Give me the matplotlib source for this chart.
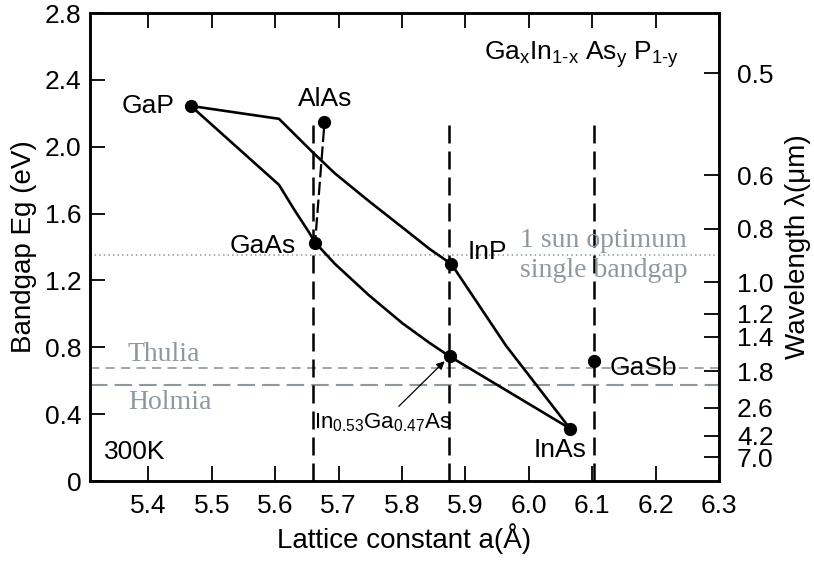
import matplotlib
matplotlib.use("Agg")
import matplotlib.pyplot as plt

plt.rcParams['font.family'] = ['Liberation Sans', 'DejaVu Sans']
plt.rcParams['mathtext.fontset'] = 'custom'
plt.rcParams['mathtext.rm'] = 'Liberation Sans'
plt.rcParams['mathtext.it'] = 'Liberation Sans'

# ---- data ----
# upper boundary: GaP -> InP -> InAs
upper_a = [5.467, 5.606, 5.660, 5.694, 5.748, 5.801, 5.844, 5.878, 5.964, 6.065]
upper_eg = [2.244, 2.167, 1.964, 1.841, 1.674, 1.516, 1.387, 1.298, 0.81, 0.314]
# lower boundary: GaP -> GaAs -> InGaAs -> InAs
lower_a = [5.467, 5.606, 5.630, 5.652, 5.663, 5.694, 5.748, 5.801, 5.844, 5.875, 6.065]
lower_eg = [2.244, 1.772, 1.624, 1.496, 1.427, 1.30, 1.111, 0.943, 0.825, 0.746, 0.314]

compounds = ['GaP', 'AlAs', 'GaAs', 'InP', 'InAs', 'GaSb']
comp_a = [5.467, 5.677, 5.663, 5.878, 6.065, 6.103]
comp_eg = [2.244, 2.148, 1.427, 1.298, 0.314, 0.716]

ingaas_a, ingaas_eg = 5.875, 0.746

# lattice-matched verticals (GaAs, InP, GaSb)
vlines_a = [5.66, 5.874, 6.103]
vlines_top = 2.15

sun_opt = 1.35      # 1 sun optimum
thulia = 0.675
holmia = 0.574

xticks = [5.4, 5.5, 5.6, 5.7, 5.8, 5.9, 6.0, 6.1, 6.2, 6.3]
yticks = [0, 0.4, 0.8, 1.2, 1.6, 2.0, 2.4, 2.8]
ylabels = ['0', '0.4', '0.8', '1.2', '1.6', '2.0', '2.4', '2.8']
wl_labels = ['0.5', '0.6', '0.8', '1.0', '1.2', '1.4', '1.8', '2.6', '4.2', '7.0']
wl_pos_ev = [2.44, 1.83, 1.51, 1.19, 1.00, 0.864, 0.657, 0.438, 0.272, 0.142]

gray = '#8f989f'

fig = plt.figure(figsize=(8.14, 5.63), dpi=100)
ax = fig.add_axes([0.1106, 0.1456, 0.7727, 0.8313])
ax.set_xlim(5.308, 6.3)
ax.set_ylim(0, 2.8)

# reference lines
ax.axhline(sun_opt, color=gray, lw=1.1, ls=(0, (1, 2)))
ax.axhline(thulia, color=gray, lw=1.2, ls=(0, (5.5, 3.8)))
ax.axhline(holmia, color=gray, lw=1.5, ls=(0, (8.4, 3.4)))

for a in vlines_a:
    ax.plot([a, a], [0, vlines_top], color='k', lw=1.8, ls=(0, (7.2, 3.2)))

# AlAs - GaAs
ax.plot([comp_a[1], comp_a[2]], [comp_eg[1] - 0.04, comp_eg[2]], color='k', lw=1.6,
        ls=(0, (6, 2)))

ax.plot(upper_a, upper_eg, color='k', lw=1.9, solid_joinstyle='round')
ax.plot(lower_a, lower_eg, color='k', lw=1.9, solid_joinstyle='round')
ax.plot(comp_a, comp_eg, 'o', color='k', ms=8.5)
ax.plot([ingaas_a], [ingaas_eg], 'o', color='k', ms=8.5)

# compound labels (offsets in pixels)
offsets = {'GaP': (-16, 0, 'right'), 'AlAs': (1, 23, 'center'), 'GaAs': (-19, -3, 'right'),
           'InP': (16, 12, 'left'), 'InAs': (-10, -21, 'center'), 'GaSb': (16, -7, 'left')}
for name, a, eg in zip(compounds, comp_a, comp_eg):
    dx, dy, ha = offsets[name]
    ax.annotate(name, (a, eg), xytext=(dx, dy), textcoords='offset pixels',
                ha=ha, va='center', fontsize=19)

ax.annotate(r'In$_{0.53}$Ga$_{0.47}$As', (ingaas_a, ingaas_eg), xytext=(-67, -66),
            textcoords='offset pixels', ha='center', va='center', fontsize=16,
            arrowprops=dict(arrowstyle='-|>', color='k', lw=0.9, shrinkA=2, shrinkB=5,
                            mutation_scale=12))

ax.text(0.781, 0.8996, r'Ga$_{\mathregular{x}}$In$_{\text{1-x}}$ As$_{\mathregular{y}}$ P$_{\text{1-y}}$',
        transform=ax.transAxes, ha='center', va='baseline', fontsize=19)
ax.text(0.0715, 0.047, '300K', transform=ax.transAxes, ha='center', va='baseline', fontsize=19)

ytr = ax.get_yaxis_transform()
serif = ['Liberation Serif', 'DejaVu Serif']
ax.annotate('Thulia', (0.060, thulia), xycoords=ytr, xytext=(0, 7), textcoords='offset pixels',
            va='baseline', color=gray, fontsize=20, family=serif)
ax.annotate('Holmia', (0.060, holmia), xycoords=ytr, xytext=(0, -24), textcoords='offset pixels',
            va='baseline', color=gray, fontsize=20, family=serif)
ax.annotate('1 sun optimum', (0.684, sun_opt), xycoords=ytr, xytext=(0, 8),
            textcoords='offset pixels', va='baseline', color=gray, fontsize=20, family=serif)
ax.annotate('single bandgap', (0.684, sun_opt), xycoords=ytr, xytext=(0, -22),
            textcoords='offset pixels', va='baseline', color=gray, fontsize=20, family=serif)

# axes
ax.set_xticks(xticks)
ax.set_xticklabels([f'{v:.1f}' for v in xticks])
ax.set_yticks(yticks)
ax.set_yticklabels(ylabels)
ax.tick_params(axis='both', direction='in', length=11, width=1.3, labelsize=19)
ax.tick_params(axis='x', top=True, pad=9)
ax.tick_params(axis='y', pad=6)
for s in ax.spines.values():
    s.set_linewidth(1.8)
ax.set_xlabel('Lattice constant a(Å)', fontsize=20, labelpad=4)
ax.set_ylabel('Bandgap Eg (eV)', fontsize=20, labelpad=6)

ax2 = ax.twinx()
ax2.set_ylim(ax.get_ylim())
ax2.set_yticks(wl_pos_ev)
ax2.set_yticklabels(wl_labels)
ax2.tick_params(axis='y', direction='in', length=11, width=1.3, labelsize=19, pad=13)
for s in ax2.spines.values():
    s.set_linewidth(1.8)
ax2.set_ylabel('Wavelength λ(μm)', fontsize=20, labelpad=8)

fig.savefig('out.png', dpi=100)
